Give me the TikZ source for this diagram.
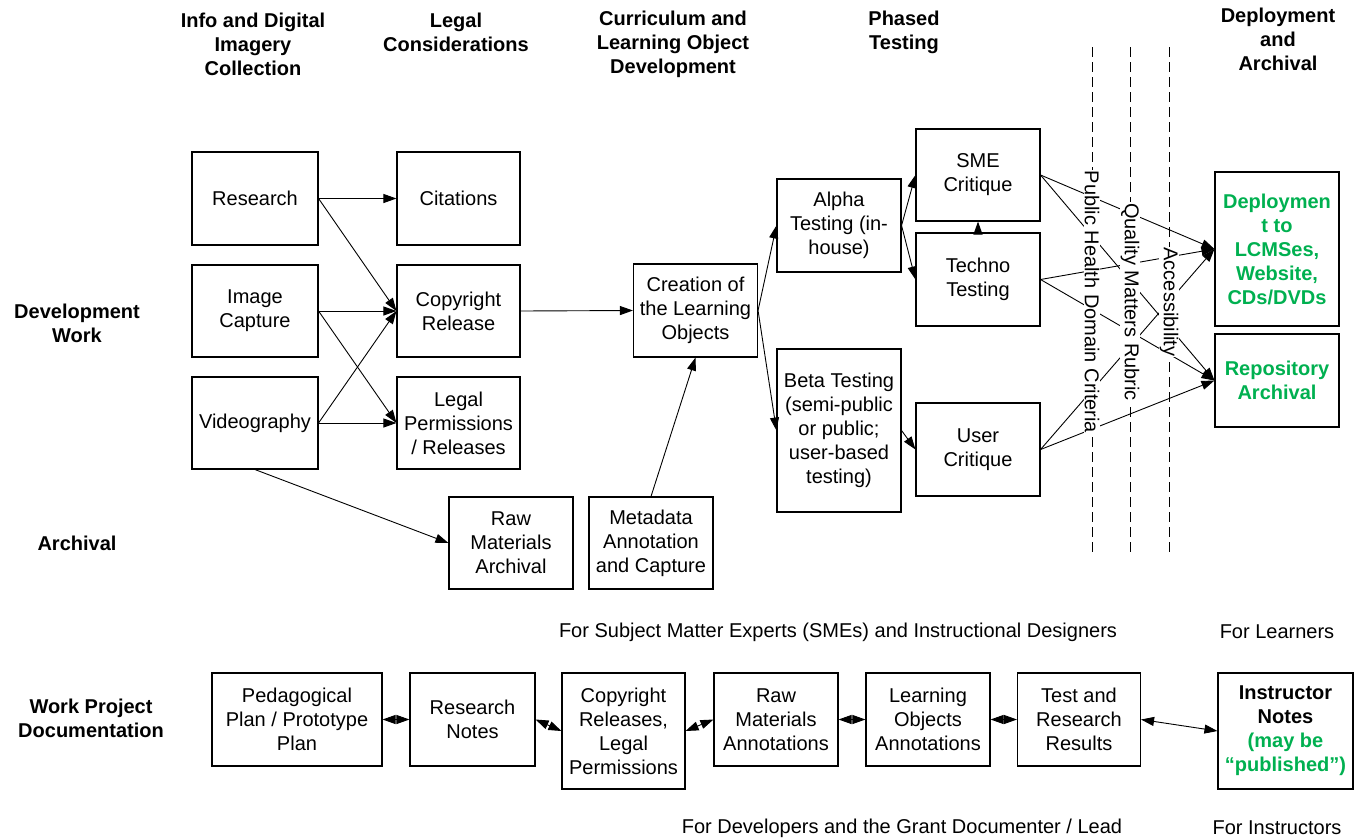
\documentclass[tikz,border=0pt]{standalone}
\usepackage{fontspec}
\setmainfont{Liberation Sans}
\usetikzlibrary{arrows.meta}
\definecolor{deploygreen}{RGB}{0,176,80}

\begin{document}
\begin{tikzpicture}[x=1pt,y=-1pt,font=\fontsize{20}{24}\selectfont]

\useasboundingbox (0,0) rectangle (1361,839);

% column and row headings
\begin{scope}[every node/.style={align=center,font=\fontsize{20}{24}\selectfont\bfseries}]
	\node (hinfo) at (253,44) {Info and Digital\\Imagery\\Collection};
	\node (hlegal) at (456,32) {Legal\\Considerations};
	\node (hcurr) at (673,44) {Curriculum and\\Learning Object\\Development};
	\node (hphase) at (904,32) {Phased\\Testing};
	\node (hdeploy) at (1278,39) {Deployment\\and\\Archival};

	\node (hdev) at (77,323) {Development\\Work};
	\node (harch) at (77,543) {Archival};
	\node (hdoc) at (91,718) {Work Project\\Documentation};
\end{scope}

\node (fsme) at (838,632) {For Subject Matter Experts (SMEs) and Instructional Designers};
\node (flearn) at (1277,632) {For Learners};
\node (fdev) at (902,828) {For Developers and the Grant Documenter / Lead};
\node (finstr) at (1277,828) {For Instructors};

\begin{scope}[every node/.style={draw,line width=1.1pt,align=center,inner sep=2pt,minimum width=124pt,minimum height=93pt}]
	\node (res) at (255,198.5) [minimum width=126pt] {Research};
	\node (img) at (255,311) [minimum width=126pt,minimum height=92pt] {Image\\Capture};
	\node (vid) at (255,423) [minimum width=126pt,minimum height=92pt] {Videography};
	\node (cit) at (458.5,198.5) [minimum width=123pt] {Citations};
	\node (cpy) at (458.5,311) [minimum width=123pt,minimum height=92pt] {Copyright\\Release};
	\node (leg) at (458.5,423) [minimum width=123pt,minimum height=92pt] {Legal\\Permissions\\/ Releases};
	\node (cre) at (695.5,310.5) {Creation of\\the Learning\\Objects};
	\node (raw) at (511,543) [minimum height=92pt] {Raw\\Materials\\Archival};
	\node (meta) at (651,543) [minimum height=92pt] {Metadata\\Annotation\\and Capture};
	\node (alpha) at (839,225.5) {Alpha\\Testing (in-\\house)};
	\node (beta) at (839,430.5) [minimum height=163pt] {Beta Testing\\(semi-public\\or public;\\user-based\\testing)};
	\node (sme) at (978,175) [minimum height=92pt] {SME\\Critique};
	\node (tech) at (978,279.5) {Techno\\Testing};
	\node (user) at (978,449.5) {User\\Critique};
	\node (dep) at (1277,249) [minimum height=154pt,text=deploygreen,font=\fontsize{20}{24}\selectfont\bfseries] {Deploymen\\t to\\LCMSes,\\Website,\\CDs/DVDs};
	\node (rep) at (1277,380.5) [text=deploygreen,font=\fontsize{20}{24}\selectfont\bfseries] {Repository\\Archival};

	\node (ped) at (297,719.5) [minimum width=170pt] {Pedagogical\\Plan / Prototype\\Plan};
	\node (rnotes) at (472.5,719.5) [minimum width=125pt] {Research\\Notes};
	\node (crel) at (623.5,731) [minimum width=123pt,minimum height=116pt] {Copyright\\Releases,\\Legal\\Permissions};
	\node (rawan) at (776,719.5) {Raw\\Materials\\Annotations};
	\node (loan) at (928,719.5) {Learning\\Objects\\Annotations};
	\node (test) at (1079,719.5) [minimum width=123pt] {Test and\\Research\\Results};
	\node (instr) at (1285.5,731) [minimum width=135pt,minimum height=116pt,font=\fontsize{20}{24}\selectfont\bfseries] {Instructor\\Notes\\\textcolor{deploygreen}{(may be}\\\textcolor{deploygreen}{“published”)}};
\end{scope}

\begin{scope}[>={Triangle[length=13pt,width=9pt]}, every edge/.style={draw=black,line width=0.9pt}]
	\path [->] (res.east) edge (cit.west);
	\path [->] (res.east) edge (cpy.west);
	\path [->] (img.east) edge (cpy.west);
	\path [->] (img.east) edge (leg.west);
	\path [->] (vid.east) edge (cpy.west);
	\path [->] (vid.east) edge (leg.west);
	\path [->] (vid.south) edge (raw.west);
	\path [->] (cpy.east) edge (cre.west);
	\path [->] (meta.north) edge (cre.south);
	\path [->] (cre.east) edge (alpha.west);
	\path [->] (cre.east) edge (beta.west);
	\path [->] (alpha.east) edge (sme.west);
	\path [->] (alpha.east) edge (tech.west);
	\path [->] (tech.north) edge (sme.south);
	\path [->] (beta.east) edge (user.west);
	\path [->] (sme.east) edge (dep.west);
	\path [->] (sme.east) edge (rep.west);
	\path [->] (tech.east) edge (dep.west);
	\path [->] (tech.east) edge (rep.west);
	\path [->] (user.east) edge (dep.west);
	\path [->] (user.east) edge (rep.west);

	\path [<->] (ped.east) edge (rnotes.west);
	\path [<->] (rnotes.east) edge (crel.west);
	\path [<->] (crel.east) edge (rawan.west);
	\path [<->] (rawan.east) edge (loan.west);
	\path [<->] (loan.east) edge (test.west);
	\path [<->] (test.east) edge (instr.west);
\end{scope}

% review criteria
\coordinate (phtop) at (1092,47);
\coordinate (phbot) at (1092,553);
\coordinate (qmtop) at (1130,47);
\coordinate (qmbot) at (1130,553);
\coordinate (actop) at (1169,47);
\coordinate (acbot) at (1169,553);
\draw[line width=1pt,dash pattern=on 10pt off 5pt] (phtop) -- (phbot);
\draw[line width=1pt,dash pattern=on 10pt off 5pt] (qmtop) -- (qmbot);
\draw[line width=1pt,dash pattern=on 10pt off 5pt] (actop) -- (acbot);

\begin{scope}[every node/.style={rotate=-90,fill=white,inner sep=1pt}]
	\node (phlab) at (1092,302) {Public Health Domain Criteria};
	\node (qmlab) at (1130,302) {Quality Matters Rubric};
	\node (aclab) at (1169,302) {Accessibility};
\end{scope}

\end{tikzpicture}
\end{document}
